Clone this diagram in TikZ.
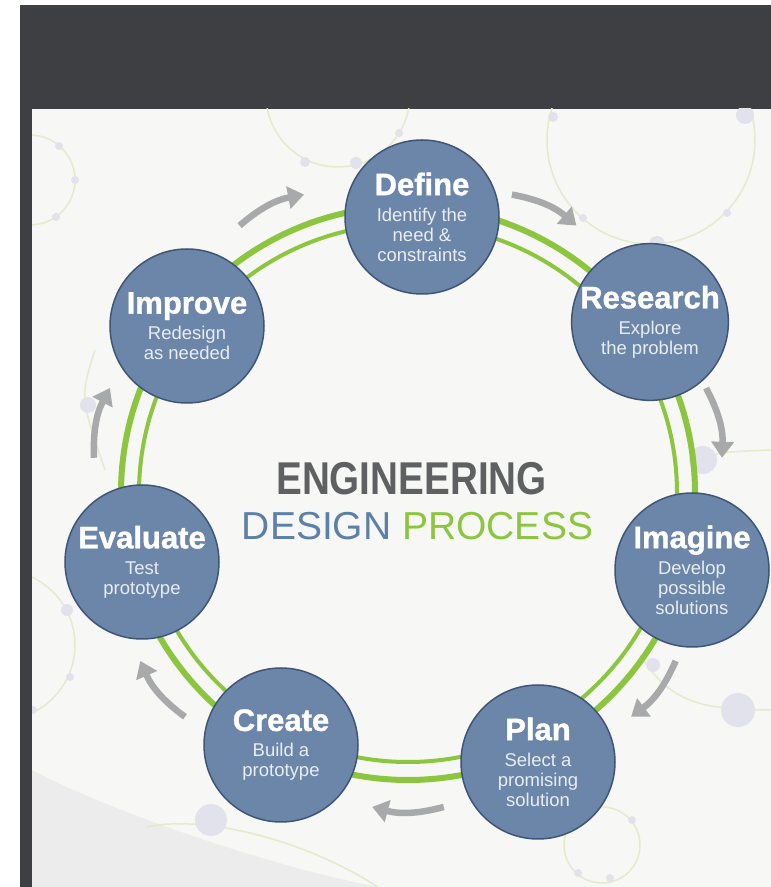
\documentclass[tikz,border=0pt]{standalone}
\usepackage{fontspec}
\setmainfont{Liberation Sans}
\newfontfamily\engfont[FakeStretch=0.84]{Liberation Sans}
\newfontfamily\stagefont[BoldFeatures={FakeBold=1.2}]{Liberation Sans}
\usetikzlibrary{arrows.meta,calc}

\definecolor{framedark}{HTML}{3E3F43}
\definecolor{paper}{HTML}{F7F7F5}
\definecolor{wedgegray}{HTML}{ECECEC}
\definecolor{decogreen}{HTML}{E3EBC9}
\definecolor{decolilac}{HTML}{E2E2EC}
\definecolor{stagefill}{HTML}{6C86A9}
\definecolor{stageedge}{HTML}{3F5576}
\definecolor{subwhite}{HTML}{E8EDF3}
\definecolor{ringgreen}{HTML}{8CC63F}
\definecolor{arrowgray}{HTML}{A8A9AB}
\definecolor{titlegray}{HTML}{5F6062}
\definecolor{designblue}{HTML}{5B80A9}

\tikzset{
  stage/.style={circle, draw=stageedge, line width=1.5pt, fill=stagefill,
    minimum size=154pt, inner sep=0pt, align=center, text=subwhite,
    font=\fontsize{18.5}{20}\selectfont},
  ringouter/.style={draw=ringgreen, line width=6pt},
  ringinner/.style={draw=ringgreen, line width=4pt},
  cycarrow/.style={draw=arrowgray, line width=6.5pt,
    -{Triangle[width=22pt,length=16pt]}},
  decoline/.style={draw=decogreen, line width=1.5pt},
  decodot/.style={fill=decolilac},
}

% title line + description lines of one stage
\newcommand{\stagetext}[2]{{\stagefont\bfseries\color{white}\fontsize{31}{31}\selectfont #1}\\[6pt]#2}

\begin{document}
\begin{tikzpicture}[x=1pt, y=1pt]
  \useasboundingbox (0,0) rectangle (771,887);

  % frame and paper
  \fill[framedark] (20,0) rectangle (771,882);
  \fill[paper] (32,0) rectangle (771,778);

  % faint background pattern
  \begin{scope}
    \clip (32,0) rectangle (771,778);
    \fill[wedgegray] (32,0) -- (32,117) .. controls (90,85) and (250,25) .. (378,0) -- cycle;
    \draw[decoline] (30,707) circle[radius=45];
    \draw[decoline] (338,792) circle[radius=72];
    \draw[decoline] (651,747) circle[radius=104];
    \draw[decoline] (0,242) circle[radius=75];
    \draw[decoline] (602,42) circle[radius=38];
    \draw[decoline] (690,425) .. controls (720,435) .. (771,437);
    \draw[decoline] (640,232) .. controls (670,185) and (700,177) .. (771,177);
    \draw[decoline] (95,537) .. controls (80,490) .. (105,417);
    \draw[decoline] (147,60) .. controls (200,72) and (300,50) .. (378,0);
    \fill[decodot] (59,741) circle[radius=4] (75,707) circle[radius=4] (56,670) circle[radius=4];
    \fill[decodot] (305,725) circle[radius=5] (356,724) circle[radius=6] (399,754) circle[radius=4];
    \fill[decodot] (553,770) circle[radius=5] (583,669) circle[radius=4] (657,643) circle[radius=8]
      (727,674) circle[radius=4] (745,772) circle[radius=9];
    \fill[decodot] (703,427) circle[radius=14] (738,177) circle[radius=17] (653,222) circle[radius=7];
    \fill[decodot] (67,277) circle[radius=6] (70,210) circle[radius=4] (33,177) circle[radius=4];
    \fill[decodot] (88,482) circle[radius=8] (211,67) circle[radius=16];
    \fill[decodot] (632,67) circle[radius=4] (610,9) circle[radius=4] (578,14) circle[radius=4];
  \end{scope}

  % double green ring
  \coordinate (ctr) at (408,394);
  \draw[ringouter] (ctr) circle[radius=287];
  \draw[ringinner] (ctr) circle[radius=269];

  % gray cycle arrows
  \foreach \m [count=\i] in {115.7,64.3,12.9,-38.6,-90,-141.4,-192.9} {
    \coordinate (s\i) at ($(ctr)+(\m+6.5:316)$);
    \coordinate (e\i) at ($(ctr)+(\m-6.5:316)$);
    \draw[cycarrow] (s\i) to[bend left=15] (e\i);
  }

  % stages
  \node[stage] (define)   at (422,670) {\stagetext{Define}{Identify the\\need \&\\constraints}};
  \node[stage] (research) at (650,565) {\stagetext{Research}{Explore\\the problem}};
  \node[stage] (imagine)  at (692,317) {\stagetext{Imagine}{Develop\\possible\\solutions}};
  \node[stage] (plan)     at (538,125) {\stagetext{Plan}{Select a\\promising\\solution}};
  \node[stage] (create)   at (281,142) {\stagetext{Create}{Build a\\prototype}};
  \node[stage] (evaluate) at (142,325) {\stagetext{Evaluate}{Test\\prototype}};
  \node[stage] (improve)  at (187,561) {\stagetext{Improve}{Redesign\\as needed}};

  % centre title
  \node[anchor=base, text=titlegray, font=\engfont\bfseries\fontsize{46}{46}\selectfont]
    (engtitle) at (411.5,392) {ENGINEERING};
  \node[anchor=base, font=\fontsize{39}{39}\selectfont]
    (dptitle) at (417.5,347) {\textcolor{designblue}{DESIGN} \textcolor{ringgreen}{PROCESS}};
\end{tikzpicture}
\end{document}
